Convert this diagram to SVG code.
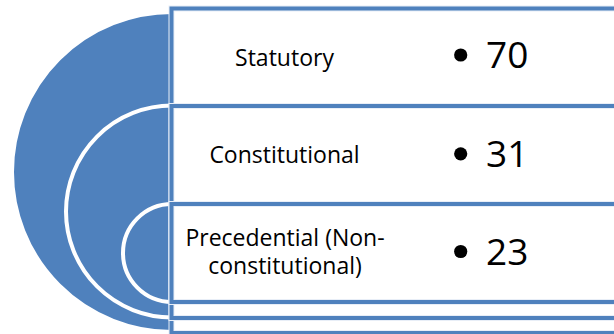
<svg xmlns="http://www.w3.org/2000/svg" width="614" height="334" viewBox="0 0 614 334">
<style>
.semi{fill:#4F81BD;stroke:#FFFFFF;stroke-width:4}
.boxw{fill:#FFFFFF;stroke:#E8EEF7;stroke-width:6}
.box{fill:none;stroke:#4F81BD;stroke-width:4}
.lbl{font-family:"Open Sans","Liberation Sans",sans-serif;font-size:23px;fill:#000000;text-anchor:middle}
.num{font-family:"Open Sans","Liberation Sans",sans-serif;font-size:37px;fill:#000000}
.bul{fill:#000000}
</style>
<rect width="614" height="334" fill="#FFFFFF"/>
<g id="rings">
<path class="semi" d="M172,12 A160,160 0 0 0 172,332" stroke="none"/>
<path class="semi" d="M172,105.5 A106,106 0 0 0 172,317.5"/>
<path class="semi" d="M172,204 A49,49 0 0 0 172,302"/>
</g>
<g id="node-statutory">
<rect class="boxw" x="171.5" y="8.5" width="460" height="324.5"/>
<rect class="box" x="171.5" y="8.5" width="460" height="324.5"/>
<text class="lbl" x="284.5" y="65.7">Statutory</text>
<circle class="bul" cx="460.7" cy="55" r="6.6"/>
<text class="num" x="486" y="68.3">70</text>
</g>
<g id="node-constitutional">
<rect class="boxw" x="171.5" y="106" width="460" height="212"/>
<rect class="box" x="171.5" y="106" width="460" height="212"/>
<text class="lbl" x="284.5" y="162.7">Constitutional</text>
<circle class="bul" cx="460.7" cy="153.8" r="6.6"/>
<text class="num" x="486" y="167">31</text>
</g>
<g id="node-precedential">
<rect class="boxw" x="171.5" y="204" width="460" height="98"/>
<rect class="box" x="171.5" y="204" width="460" height="98"/>
<text class="lbl" x="285" y="246">Precedential (Non-</text>
<text class="lbl" x="285" y="274">constitutional)</text>
<circle class="bul" cx="460.7" cy="251.5" r="6.6"/>
<text class="num" x="486" y="264.7">23</text>
</g>
<g id="connectors"></g>
</svg>
